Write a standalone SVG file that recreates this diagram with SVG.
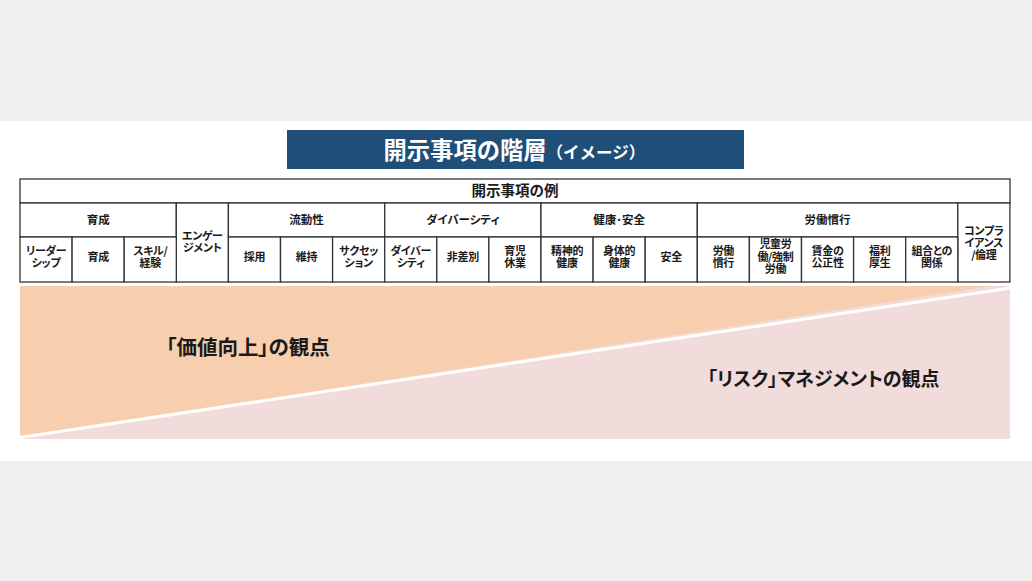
<svg xmlns="http://www.w3.org/2000/svg" width="1032" height="581" viewBox="0 0 1032 581">
<style>
text{font-family:"Noto Sans CJK JP","Noto Sans",sans-serif;font-weight:bold;fill:#1a1a1a;text-anchor:middle;font-feature-settings:"palt"}
.c{fill:#fff;stroke:#333;stroke-width:1.3}
.t{font-size:11px;letter-spacing:-0.3px}
.g{font-size:11.5px}
</style>
<rect x="0" y="0" width="1032" height="581" fill="#efefef"/>
<rect x="0" y="121" width="1032" height="340" fill="#fff"/>

<g id="title">
<rect x="287" y="130" width="457" height="39" fill="#1f4e79"/>
<text x="383.5" y="158.6" style="text-anchor:start;font-feature-settings:normal;fill:#fff;font-size:23.3px">開示事項の階層<tspan font-size="16.5px">（イメージ）</tspan></text>
</g>

<g id="perspective">
<rect x="20" y="286" width="990" height="153" fill="#f2dcdb"/>
<polygon points="20,286 992,286 20,437" fill="#f8cfae"/>
<line x1="20" y1="437.5" x2="1010" y2="288" stroke="#fff" stroke-width="3"/>
</g>

<g id="label-value"><text x="248" y="355" style="font-size:20.5px">「価値向上」の観点</text></g>
<g id="label-risk"><text x="823.5" y="385.5" style="font-size:19px">「リスク」マネジメントの観点</text></g>

<g id="table">
<g id="header"><rect class="c" x="20" y="179" width="990" height="24"/><text x="515" y="195.8" style="font-size:14.5px">開示事項の例</text></g>

<g id="grp-ikusei"><rect class="c" x="20" y="203" width="156.3" height="34"/><text class="g" x="98.15" y="224.2">育成</text></g>
<g id="grp-engagement"><rect class="c" x="176.3" y="203" width="52.1" height="79"/><text class="t" x="202.35" y="240.4">エンゲー</text><text class="t" x="202.35" y="252.4">ジメント</text></g>
<g id="grp-ryudo"><rect class="c" x="228.4" y="203" width="156.3" height="34"/><text class="g" x="306.55" y="224.2">流動性</text></g>
<g id="grp-diversity"><rect class="c" x="384.7" y="203" width="156.3" height="34"/><text class="g" x="462.85" y="224.2">ダイバーシティ</text></g>
<g id="grp-health"><rect class="c" x="541" y="203" width="156.3" height="34"/><text class="g" x="619.15" y="224.2">健康･安全</text></g>
<g id="grp-labor"><rect class="c" x="697.3" y="203" width="260.5" height="34"/><text class="g" x="827.55" y="224.2">労働慣行</text></g>
<g id="grp-compliance"><rect class="c" x="957.8" y="203" width="52.1" height="79"/><text class="t" x="983.85" y="234.7">コンプラ</text><text class="t" x="983.85" y="246.9">イアンス</text><text class="t" x="983.85" y="259.1">/倫理</text></g>

<g id="c0"><rect class="c" x="20" y="237" width="52.1" height="45"/><text class="t" x="46.05" y="254.7">リーダー</text><text class="t" x="46.05" y="266.9">シップ</text></g>
<g id="c1"><rect class="c" x="72.1" y="237" width="52.1" height="45"/><text class="t" x="98.15" y="261">育成</text></g>
<g id="c2"><rect class="c" x="124.2" y="237" width="52.1" height="45"/><text class="t" x="150.25" y="254.7">スキル/</text><text class="t" x="150.25" y="266.9">経験</text></g>
<g id="c4"><rect class="c" x="228.4" y="237" width="52.1" height="45"/><text class="t" x="254.45" y="261">採用</text></g>
<g id="c5"><rect class="c" x="280.5" y="237" width="52.1" height="45"/><text class="t" x="306.55" y="261">維持</text></g>
<g id="c6"><rect class="c" x="332.6" y="237" width="52.1" height="45"/><text class="t" x="358.65" y="254.7">サクセッ</text><text class="t" x="358.65" y="266.9">ション</text></g>
<g id="c7"><rect class="c" x="384.7" y="237" width="52.1" height="45"/><text class="t" x="410.75" y="254.7">ダイバー</text><text class="t" x="410.75" y="266.9">シティ</text></g>
<g id="c8"><rect class="c" x="436.8" y="237" width="52.1" height="45"/><text class="t" x="462.85" y="261">非差別</text></g>
<g id="c9"><rect class="c" x="488.9" y="237" width="52.1" height="45"/><text class="t" x="514.95" y="254.7">育児</text><text class="t" x="514.95" y="266.9">休業</text></g>
<g id="c10"><rect class="c" x="541" y="237" width="52.1" height="45"/><text class="t" x="567.05" y="254.7">精神的</text><text class="t" x="567.05" y="266.9">健康</text></g>
<g id="c11"><rect class="c" x="593.1" y="237" width="52.1" height="45"/><text class="t" x="619.15" y="254.7">身体的</text><text class="t" x="619.15" y="266.9">健康</text></g>
<g id="c12"><rect class="c" x="645.2" y="237" width="52.1" height="45"/><text class="t" x="671.25" y="261">安全</text></g>
<g id="c13"><rect class="c" x="697.3" y="237" width="52.1" height="45"/><text class="t" x="723.35" y="254.7">労働</text><text class="t" x="723.35" y="266.9">慣行</text></g>
<g id="c14"><rect class="c" x="749.4" y="237" width="52.1" height="45"/><text class="t" x="775.45" y="248.2">児童労</text><text class="t" x="775.45" y="260.5">働/強制</text><text class="t" x="775.45" y="272.8">労働</text></g>
<g id="c15"><rect class="c" x="801.5" y="237" width="52.1" height="45"/><text class="t" x="827.55" y="254.7">賃金の</text><text class="t" x="827.55" y="266.9">公正性</text></g>
<g id="c16"><rect class="c" x="853.6" y="237" width="52.1" height="45"/><text class="t" x="879.65" y="254.7">福利</text><text class="t" x="879.65" y="266.9">厚生</text></g>
<g id="c17"><rect class="c" x="905.7" y="237" width="52.1" height="45"/><text class="t" x="931.75" y="254.7">組合との</text><text class="t" x="931.75" y="266.9">関係</text></g>
</g>
</svg>
